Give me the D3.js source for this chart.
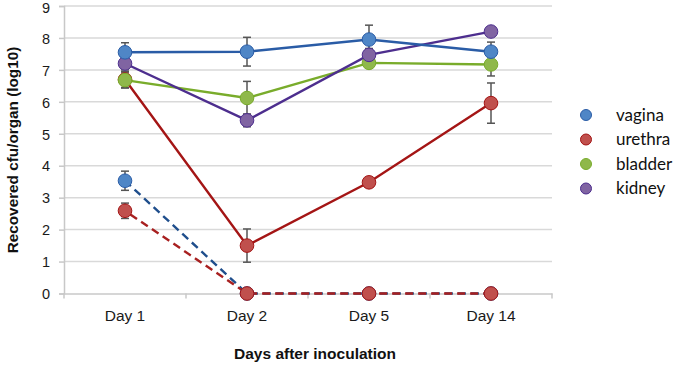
<!DOCTYPE html>
<html><head><meta charset="utf-8">
<script src="https://cdn.jsdelivr.net/npm/d3@7"></script>
<style>body{margin:0;background:#fff}svg{display:block}</style>
</head><body><svg id="c" width="678" height="366"></svg>
<script>
const days = ["Day 1","Day 2","Day 5","Day 14"];
const yTicks = [0,1,2,3,4,5,6,7,8,9];
const seriesNames = ["vagina","urethra","bladder","kidney"];
// solid series (mean, error)
const vagina = [7.55, 7.57, 7.95, 7.57];
const vaginaErr = [0.3, 0.45, 0.45, 0.3];
const urethra = [6.7, 1.5, 3.48, 5.96];
const urethraErr = [0.25, 0.52, 0.15, 0.63];
const bladder = [6.68, 6.12, 7.22, 7.17];
const bladderErr = [0.25, 0.52, 0.12, 0.36];
const kidney = [7.2, 5.42, 7.47, 8.2];
const kidneyErr = [0.2, 0.2, 0.2, 0.15];
// dashed series
const vaginaDash = [3.53, 0, 0, 0];
const vaginaDashErr = [0.3, 0, 0, 0];
const urethraDash = [2.59, 0, 0, 0];
const urethraDashErr = [0.24, 0, 0, 0];

const lineCol = {vagina:"#2a5ca6", urethra:"#a41515", bladder:"#79ac2b", kidney:"#4d2e8e"};
const fillCol = {vagina:"#4f86c6", urethra:"#c0504d", bladder:"#8fb84a", kidney:"#8064a2"};
const dashCol = {vagina:"#1f4e8c", urethra:"#a82020"};
const FONT = "Liberation Sans, Arial, sans-serif";

const svg = d3.select("#c");
const L=64, R=552, T=6, B=293.5;
const x = d3.scaleBand().domain(days).range([L,R]);
const y = d3.scaleLinear().domain([0,9]).range([B,T]);
const cx = d => x(d)+x.bandwidth()/2;

// gridlines
svg.append("g").selectAll("line").data(yTicks.filter(t=>t>0)).join("line")
  .attr("x1",L).attr("x2",R).attr("y1",d=>y(d)).attr("y2",d=>y(d))
  .attr("stroke","#d9d9d9").attr("stroke-width",1.5);

// y axis
const ya = svg.append("g").attr("transform",`translate(${L},0)`)
  .call(d3.axisLeft(y).tickValues(yTicks).tickSize(5).tickPadding(9));
ya.select(".domain").attr("stroke","#c8c8c8").attr("stroke-width",1.5);
ya.selectAll(".tick line").attr("stroke","#c8c8c8").attr("stroke-width",1.5);
ya.selectAll("text").attr("font-family",FONT).attr("font-size",14.5).attr("fill","#1a1a1a")
  .attr("dy","0.36em");
ya.selectAll(".tick").filter(d=>d===9).select("text").attr("dy","0.42em");

// x axis
const xa = svg.append("g").attr("transform",`translate(0,${B})`)
  .call(d3.axisBottom(x).tickSize(0).tickPadding(16));
xa.select(".domain").attr("stroke","#c8c8c8").attr("stroke-width",1.5);
xa.selectAll("text").attr("font-family",FONT).attr("font-size",15.5).attr("fill","#1a1a1a");
svg.append("g").selectAll("line").data(d3.range(days.length+1)).join("line")
  .attr("x1",i=>L+i*x.bandwidth()).attr("x2",i=>L+i*x.bandwidth())
  .attr("y1",B).attr("y2",B+5).attr("stroke","#c8c8c8").attr("stroke-width",1.5);

// titles
svg.append("text").attr("transform",`translate(18,${150}) rotate(-90)`)
  .attr("text-anchor","middle").attr("font-family",FONT)
  .attr("font-weight","bold").attr("font-size",15.3).attr("fill","#111")
  .text("Recovered cfu/organ (log10)");
svg.append("text").attr("x",315).attr("y",359).attr("text-anchor","middle")
  .attr("font-family",FONT)
  .attr("font-weight","bold").attr("font-size",15.5).attr("fill","#111")
  .text("Days after inoculation");

const line = d3.line().x((d,i)=>cx(days[i])).y(d=>y(d));
const gErr = svg.append("g"), gLines = svg.append("g"), gMarks = svg.append("g");

function errBars(vals, errs){
  vals.forEach((v,i)=>{
    const e = errs[i]; if(!e) return;
    const px = cx(days[i]);
    gErr.append("line").attr("x1",px).attr("x2",px).attr("y1",y(v-e)).attr("y2",y(v+e))
      .attr("stroke","#555").attr("stroke-width",1.5);
    [v-e,v+e].forEach(t=>gErr.append("line").attr("x1",px-4).attr("x2",px+4)
      .attr("y1",y(t)).attr("y2",y(t)).attr("stroke","#555").attr("stroke-width",1.5));
  });
}
function marks(vals, name, idx){
  gMarks.selectAll(null).data(vals.map((v,i)=>[v,i]).filter(d=>idx.includes(d[1]))).join("circle")
    .attr("cx",d=>cx(days[d[1]])).attr("cy",d=>y(d[0])).attr("r",6.8)
    .attr("fill",fillCol[name]).attr("stroke",lineCol[name]).attr("stroke-width",1);
}

// dashed series
[[vaginaDash,vaginaDashErr,"vagina",0],[urethraDash,urethraDashErr,"urethra",6.5]].forEach(([v,e,n,off])=>{
  errBars(v,e);
  gLines.append("path").attr("d",line(v)).attr("fill","none")
    .attr("stroke",dashCol[n]).attr("stroke-width",2.4).attr("stroke-dasharray","8,5")
    .attr("stroke-dashoffset",off);
});
marks(vaginaDash,"vagina",[0,1,2,3]);
marks(urethraDash,"urethra",[0,1,2,3]);

// solid series
const solid = [[urethra,urethraErr,"urethra"],[bladder,bladderErr,"bladder"],[kidney,kidneyErr,"kidney"],[vagina,vaginaErr,"vagina"]];
solid.forEach(([v,e,n])=>{
  errBars(v,e);
  gLines.append("path").attr("d",line(v)).attr("fill","none")
    .attr("stroke",lineCol[n]).attr("stroke-width",2.4);
  marks(v,n,[0,1,2,3]);
});

// legend
const lg = svg.append("g");
seriesNames.forEach((n,i)=>{
  const ly = 115 + i*24.5;
  lg.append("circle").attr("cx",586).attr("cy",ly).attr("r",5.5)
    .attr("fill",fillCol[n]).attr("stroke",lineCol[n]).attr("stroke-width",1);
  lg.append("text").attr("x",616).attr("y",ly+5.5).attr("font-family","Lato, 'Open Sans', sans-serif")
    .attr("font-size",17).attr("fill","#111").text(n);
});
</script></body></html>
